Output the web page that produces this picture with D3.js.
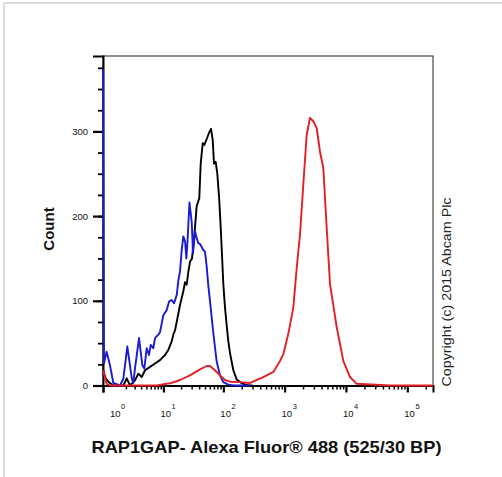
<!DOCTYPE html>
<html>
<head>
<meta charset="utf-8">
<script src="https://cdn.jsdelivr.net/npm/d3@7"></script>
<style>
  body { margin: 0; background: #fff; }
  svg { display: block; font-family: "Liberation Sans", Arial, sans-serif; }
</style>
</head>
<body>
<div id="chart"></div>
<script>
// decades shown on the x axis (10^n) and labelled counts on the y axis
const decades = [0, 1, 2, 3, 4, 5];
const countTicks = [0, 100, 200, 300];

// histograms: [fluorescence intensity, count]
const blackCurve = [
  [0.5, 18], [0.63, 8], [0.74, 4.5], [1.02, 0], [1.76, 0], [2.08, 8.5], [2.43, 0], [3.05, 6],
  [3.54, 14], [4.1, 10], [4.72, 18], [5.82, 22], [7.14, 26], [8.74, 30], [10.66, 36],
  [12.15, 42], [13.88, 52], [14.78, 60], [15.79, 65], [16.87, 75], [19.17, 95], [21.78, 111],
  [23.25, 122], [24.82, 119], [26.4, 134], [28.18, 146], [30.42, 150], [33.47, 180],
  [36.4, 212], [40.19, 221], [42.39, 262], [45.74, 286], [48.61, 284], [53.25, 291],
  [58.76, 299], [62.67, 303], [66.84, 290], [70.21, 262], [74.87, 264], [79.54, 250],
  [85.02, 223], [90.44, 187], [95, 154], [99.8, 120], [106.4, 92], [113.7, 70], [120.7, 52],
  [128.7, 38], [145.7, 18], [165.6, 7], [199.9, 2.6], [256, 0], [300, 0]
];

const blueCurve = [
  [0.5, 374], [0.54, 26], [0.66, 40], [0.83, 24], [1.02, 3], [1.48, 0], [1.76, 8], [2.14, 46],
  [2.63, 9], [2.83, 3], [3.05, 20], [3.65, 56], [4.21, 24], [4.58, 20], [5.07, 44], [5.58, 36],
  [5.99, 48], [6.66, 44], [7.14, 56], [8.16, 60], [8.74, 63], [9.97, 83], [11.4, 89],
  [12.5, 99], [13.9, 101], [15.2, 97], [16.9, 107], [18.0, 124], [19.2, 135], [20.5, 160],
  [21.8, 176], [23.3, 170], [24.5, 150], [25.6, 170], [27.6, 216], [30.1, 193], [31.6, 156],
  [34.1, 182], [36.4, 174], [38.7, 168], [41.3, 167], [46.8, 160], [49.9, 158], [53.3, 140],
  [56.6, 118], [60.3, 100], [68.4, 62], [77.8, 28], [88.1, 12], [99.8, 4], [120.7, 1],
  [145.7, 0], [273, 0]
];

const redCurve = [
  [0.5, 18], [0.66, 2], [0.83, 0], [7.65, 0], [11.4, 2], [13.0, 2.6], [19.17, 6.5],
  [28.18, 12], [41.28, 19], [53.25, 23], [60.34, 23], [72.91, 18], [88.08, 12], [106.4, 6.5],
  [128.7, 4.5], [187.2, 4], [273, 3], [352, 6.5], [450, 10], [655, 16], [842, 29], [953, 37],
  [1150, 61], [1387, 92], [1577, 139], [1783, 178], [2018, 237], [2293, 296], [2596, 316],
  [2938, 312], [3337, 304], [3776, 276], [4276, 257], [4856, 186], [5497, 120], [7068, 69],
  [9057, 29], [11640, 10], [14960, 2], [52240, 0], [262144, 0]
];

const width = 502, height = 477;
const svg = d3.select("#chart").append("svg")
  .attr("width", width)
  .attr("height", height);

// light outer border (top and left)
svg.append("path")
  .attr("d", `M4,${height} V3 H${width}`)
  .attr("fill", "none")
  .attr("stroke", "#dedede")
  .attr("stroke-width", 2);

const x = d3.scaleSymlog().constant(0.6)
  .domain([0.5, 262144])
  .range([103, 433]);

const y = d3.scaleLinear()
  .domain([0, 389])
  .range([385.5, 56]);

// plot frame
svg.append("rect")
  .attr("x", 103).attr("y", 56)
  .attr("width", 330).attr("height", 329.5)
  .attr("fill", "none")
  .attr("stroke", "#222")
  .attr("stroke-width", 1);

// x axis ticks
const minorX = [];
decades.forEach(d => {
  for (let k = 2; k <= 9; k++) {
    const v = k * Math.pow(10, d);
    if (v < 262144) minorX.push(v);
  }
});

const xMinor = svg.append("g")
  .attr("transform", "translate(0,385.5)")
  .call(d3.axisBottom(x).tickValues(minorX).tickSize(4).tickFormat(""));
xMinor.select(".domain").remove();
xMinor.selectAll("line").attr("stroke", "#000").attr("stroke-width", 1.5);

const xMajor = svg.append("g")
  .attr("transform", "translate(0,385.5)")
  .call(d3.axisBottom(x).tickValues([0.5].concat(decades.slice(1).map(d => Math.pow(10, d)))).tickSize(7).tickFormat(""));
xMajor.select(".domain").attr("stroke", "#000").attr("stroke-width", 2);
xMajor.selectAll("line").attr("stroke", "#000").attr("stroke-width", 2.2);

// decade labels
const xLabels = svg.append("g");
decades.forEach(d => {
  const t = xLabels.append("text")
    .attr("x", x(Math.pow(10, d)) - 3)
    .attr("y", 417)
    .attr("font-size", 9.5)
    .attr("fill", "#111");
  t.append("tspan").text("10");
  t.append("tspan").attr("dy", -8).attr("dx", 0.5).attr("font-size", 7.5).text(d);
});

// y axis
const yMinor = svg.append("g")
  .attr("transform", "translate(103,0)")
  .call(d3.axisLeft(y).tickValues(d3.range(0, 376, 25)).tickSize(5).tickFormat(""));
yMinor.select(".domain").remove();
yMinor.selectAll("line").attr("stroke", "#000").attr("stroke-width", 1.8);

const yMajor = svg.append("g")
  .attr("transform", "translate(103,0)")
  .call(d3.axisLeft(y).tickValues(countTicks).tickSize(10).tickPadding(5));
yMajor.select(".domain").attr("stroke", "#000").attr("stroke-width", 2);
yMajor.selectAll("line").attr("stroke", "#000").attr("stroke-width", 2.2);
yMajor.selectAll("text")
  .attr("font-size", 9.5)
  .attr("font-family", "Liberation Sans, Arial, sans-serif")
  .attr("fill", "#111");

// curves drawn over the axes
const line = d3.line()
  .x(d => x(d[0]))
  .y(d => y(d[1]));

[[blackCurve, "#000"], [blueCurve, "#1a1ad2"], [redCurve, "#e41e26"]].forEach(([data, color]) => {
  svg.append("path")
    .datum(data)
    .attr("d", line)
    .attr("fill", "none")
    .attr("stroke", color)
    .attr("stroke-width", 1.9)
    .attr("stroke-linejoin", "round");
});

// titles
svg.append("text")
  .attr("x", 266.5)
  .attr("y", 453)
  .attr("text-anchor", "middle")
  .attr("font-size", 17)
  .attr("font-weight", "bold")
  .attr("textLength", 350)
  .attr("lengthAdjust", "spacingAndGlyphs")
  .attr("fill", "#111")
  .text("RAP1GAP- Alexa Fluor® 488 (525/30 BP)");

svg.append("text")
  .attr("transform", "translate(54,229) rotate(-90)")
  .attr("text-anchor", "middle")
  .attr("font-size", 15)
  .attr("font-weight", "bold")
  .attr("fill", "#111")
  .text("Count");

svg.append("text")
  .attr("transform", "translate(451,292) rotate(-90)")
  .attr("text-anchor", "middle")
  .attr("font-size", 12)
  .attr("textLength", 189)
  .attr("lengthAdjust", "spacingAndGlyphs")
  .attr("fill", "#222")
  .text("Copyright (c) 2015 Abcam Plc");
</script>
</body>
</html>
